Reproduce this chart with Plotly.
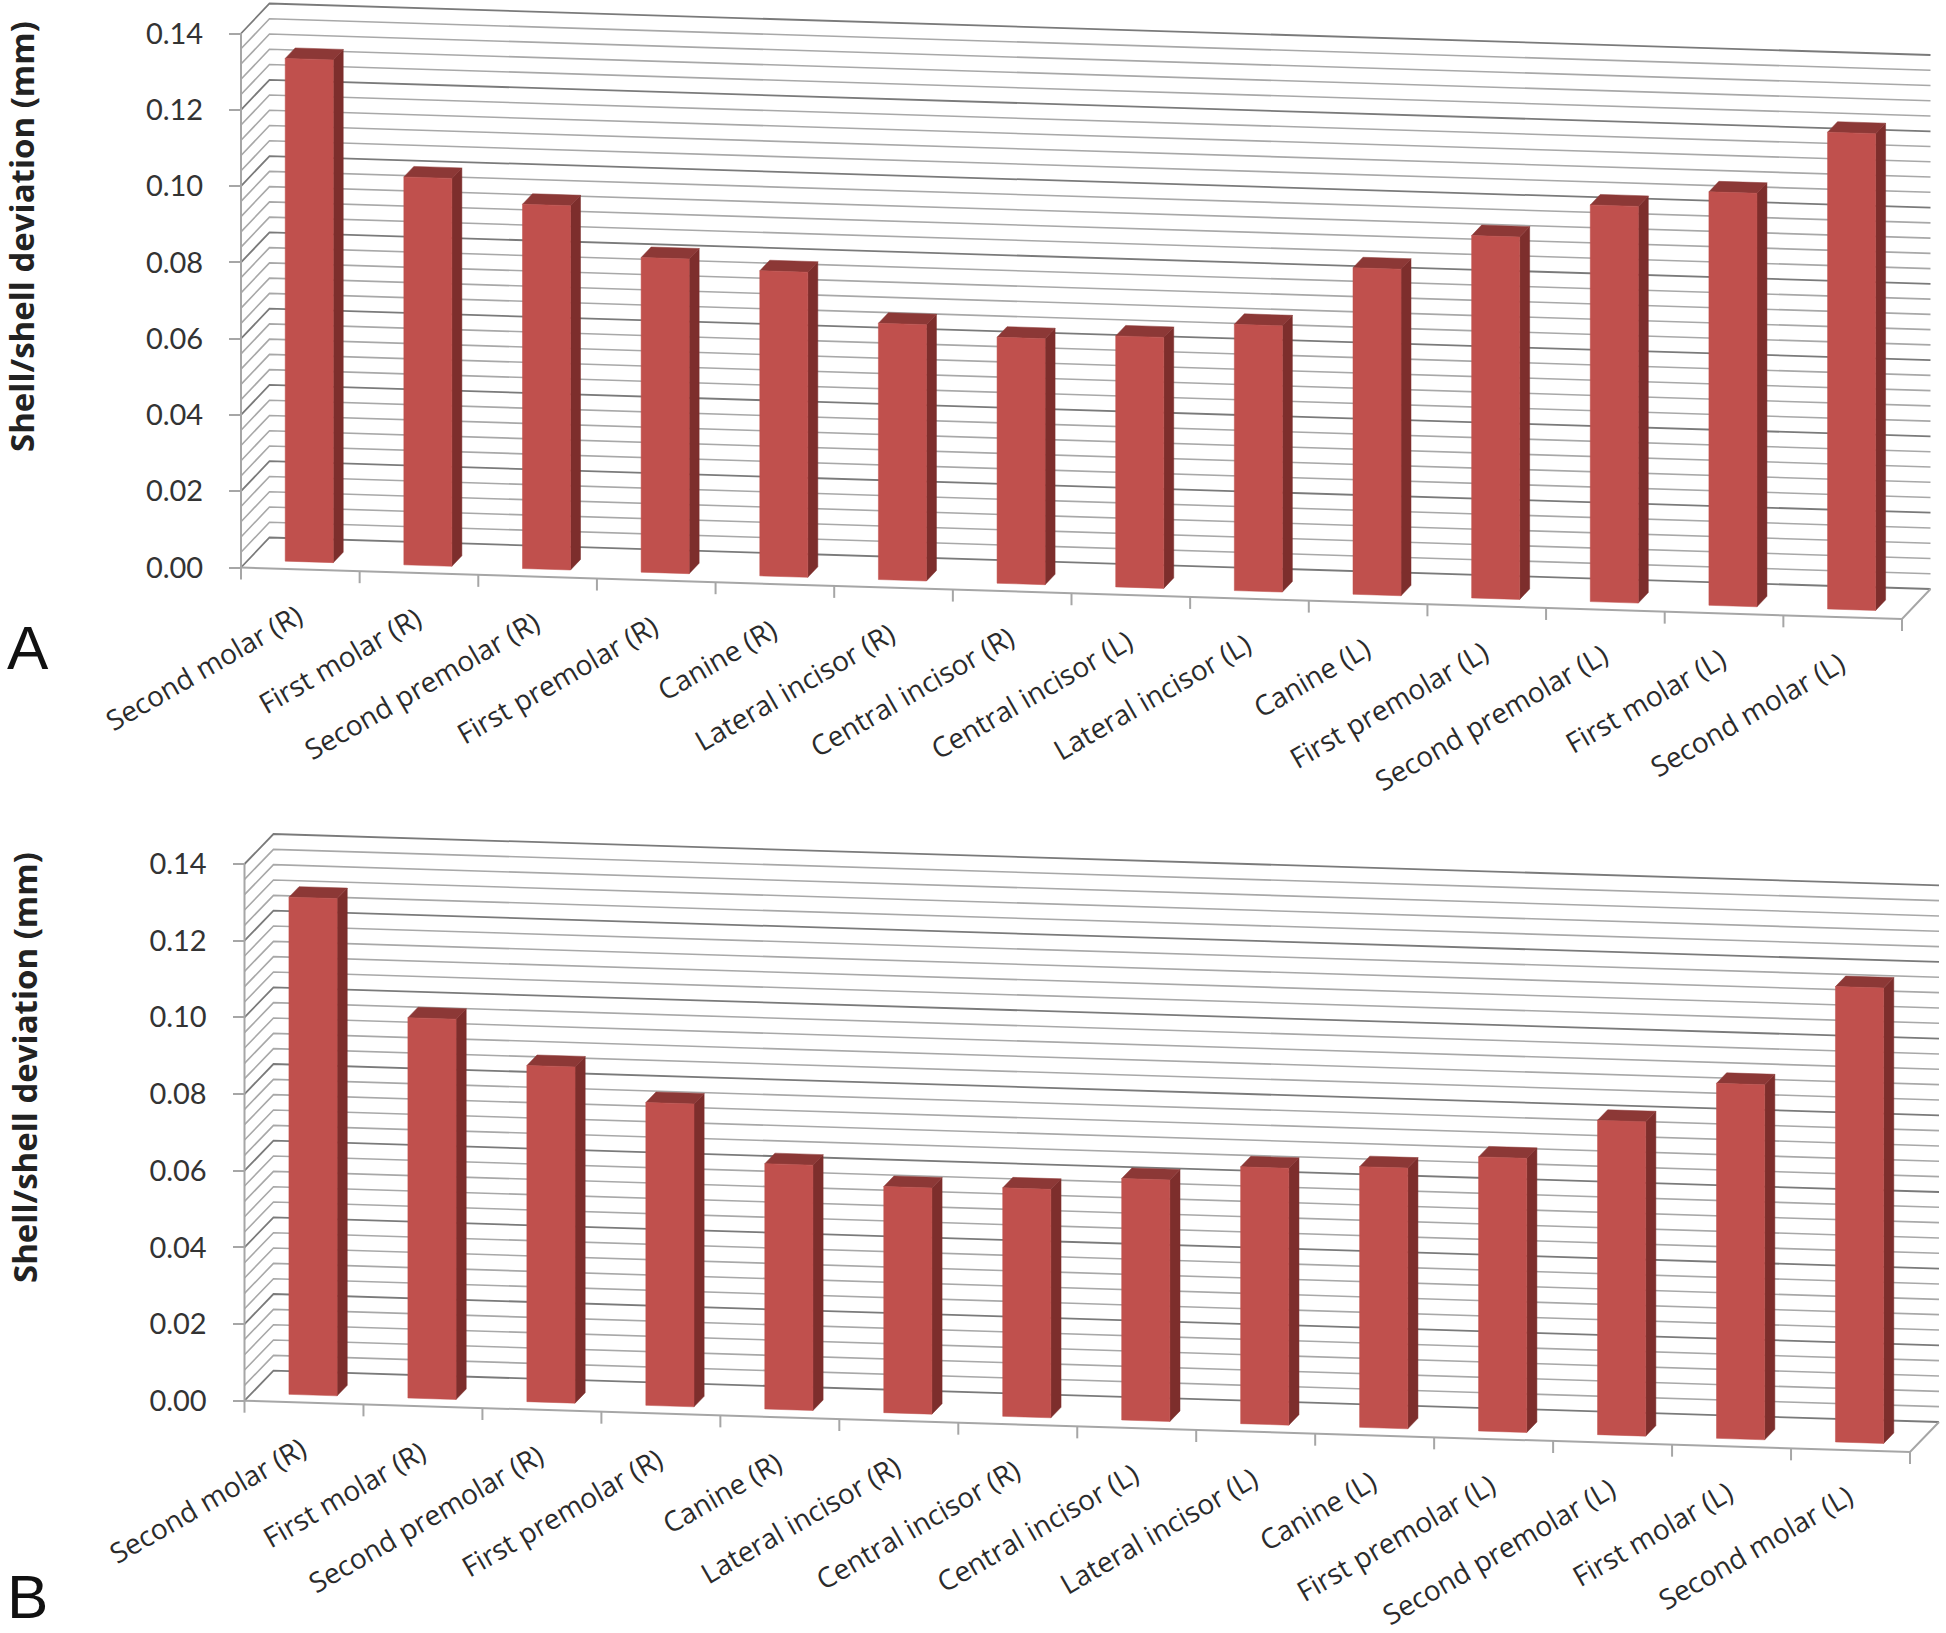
import plotly.graph_objects as go

categories = ["Second molar (R)", "First molar (R)", "Second premolar (R)", "First premolar (R)",
              "Canine (R)", "Lateral incisor (R)", "Central incisor (R)", "Central incisor (L)",
              "Lateral incisor (L)", "Canine (L)", "First premolar (L)", "Second premolar (L)",
              "First molar (L)", "Second molar (L)"]
values_a = [0.1318, 0.1017, 0.0955, 0.0825, 0.080, 0.0672, 0.0645, 0.0658, 0.0698, 0.0856, 0.095, 0.104, 0.1084, 0.125]
values_b = [0.1297, 0.0992, 0.0877, 0.079, 0.064, 0.059, 0.0596, 0.063, 0.067, 0.068, 0.0715, 0.082, 0.0926, 0.1188]
y_ticks = [0.00, 0.02, 0.04, 0.06, 0.08, 0.10, 0.12, 0.14]
minor_step = 0.004
y_title = "Shell/shell deviation (mm)"

W, H = 1946, 1633
FONT = "Lato"
N = len(categories)
GRID_MINOR, GRID_MAJOR, AXIS = "#a8a8a8", "#7a7a7a", "#a6a6a6"
FRONT, SIDE, TOP = "#C0504D", "#7D2E2C", "#8C3836"
BAR_W, D0, D1 = 0.405, 0.25, 0.60

fig = go.Figure()


def panel(idx, vals, px0, py0, px_cat, px_val, dy_total, ddx_px, ddy_px, top_px, bot_px, letter, letter_y, title_x, title_y):
    xn, yn = f"x{idx}", f"y{idx}"
    slope = dy_total / N / px_val
    ddx, ddy = ddx_px / px_cat, ddy_px / px_val

    def pt(x, v, d=0.0):
        return x + d * ddx, v - slope * x + d * ddy

    def add(xs, ys, **kw):
        fig.add_trace(go.Scatter(x=xs, y=ys, xaxis=xn, yaxis=yn, showlegend=False, hoverinfo="skip", **kw))

    def lines(segments, color, width):
        xs, ys = [], []
        for seg in segments:
            for p in seg:
                xs.append(p[0]); ys.append(p[1])
            xs.append(None); ys.append(None)
        add(xs, ys, mode="lines", line=dict(color=color, width=width))

    n_steps = round(y_ticks[-1] / minor_step)
    grid = [k * minor_step for k in range(n_steps + 1)]
    major = [v for k, v in enumerate(grid) if k % 5 == 0]
    minor = [v for k, v in enumerate(grid) if k % 5 != 0]
    wall = lambda v: [pt(0, v), pt(0, v, 1), pt(N, v, 1)]
    lines([wall(v) for v in minor], GRID_MINOR, 1.6)
    lines([wall(v) for v in major], GRID_MAJOR, 1.8)
    # axes, floor edge and tick marks
    lines([[pt(0, 0), pt(0, y_ticks[-1])],
           [pt(0, 0), pt(N, 0), pt(N, 0, 1)]], AXIS, 2)
    tick_len = 12 / px_val
    lines([[pt(i, 0), (pt(i, 0)[0], pt(i, 0)[1] - tick_len)] for i in range(N + 1)], AXIS, 2)

    # bars: sheared faces from the values
    fx, fy, sx, sy, tx, ty = [], [], [], [], [], []
    for i, v in enumerate(vals):
        a = i + 0.515 - BAR_W / 2
        b = a + BAR_W
        front = [pt(a, 0, D0), pt(b, 0, D0), pt(b, v, D0), pt(a, v, D0), pt(a, 0, D0)]
        side = [pt(b, 0, D0), pt(b, 0, D1), pt(b, v, D1), pt(b, v, D0), pt(b, 0, D0)]
        top = [pt(a, v, D0), pt(b, v, D0), pt(b, v, D1), pt(a, v, D1), pt(a, v, D0)]
        for poly, xx, yy in ((front, fx, fy), (side, sx, sy), (top, tx, ty)):
            for p in poly:
                xx.append(p[0]); yy.append(p[1])
            xx.append(None); yy.append(None)
    add(sx, sy, mode="lines", fill="toself", fillcolor=SIDE, line=dict(color=SIDE, width=0.5))
    add(tx, ty, mode="lines", fill="toself", fillcolor=TOP, line=dict(color=TOP, width=0.5))
    add(fx, fy, mode="lines", fill="toself", fillcolor=FRONT, line=dict(color=FRONT, width=0.5))

    # category labels
    for i, c in enumerate(categories):
        px, py = pt(i + 0.5, 0)
        fig.add_annotation(x=px, y=py, xref=xn, yref=yn, text=c, showarrow=False, textangle=-30,
                           xanchor="right", yanchor="top", xshift=11, yshift=-23,
                           font=dict(family="Open Sans", size=28, color="#2b2b2b"))

    fig.add_annotation(x=5 / W, y=1 - letter_y / H, xref="paper", yref="paper", text=letter, showarrow=False,
                       xanchor="left", yanchor="bottom",
                       font=dict(family="Liberation Sans", size=62, color="#111111"))
    fig.add_annotation(x=title_x / W, y=1 - title_y / H, xref="paper", yref="paper", text=f"<b>{y_title}</b>",
                       showarrow=False, textangle=-90, xanchor="center", yanchor="middle",
                       font=dict(family="Open Sans", size=33, color="#222222"))

    fig.layout[f"xaxis{idx}"] = dict(domain=[0, 1], range=[-px0 / px_cat, (W - px0) / px_cat], visible=False,
                                     anchor=yn, fixedrange=True)
    fig.layout[f"yaxis{idx}"] = dict(domain=[1 - bot_px / H, 1 - top_px / H],
                                     range=[(py0 - bot_px) / px_val, (py0 - top_px) / px_val],
                                     anchor="free", overlaying=None, position=px0 / W, showgrid=False, zeroline=False,
                                     showline=False, tickmode="array", tickvals=y_ticks, tickformat=".2f",
                                     ticks="outside", ticklen=12, tickwidth=2, tickcolor=AXIS, ticklabelstandoff=20,
                                     tickfont=dict(family=FONT, size=29, color="#333333"), fixedrange=True)


panel(1, values_a, 241, 567.5, (1902 - 241) / N, 534 / 0.14, 51.5, 28.5, 30, 0, 800, "A", 684, 21, 237)
panel(2, values_b, 244.5, 1400.7, (1910 - 244.5) / N, 536.7 / 0.14, 51.3, 29, 30, 800, 1633, "B", 1633, 24, 1068)

fig.update_layout(width=W, height=H, margin=dict(l=0, r=0, t=0, b=0), paper_bgcolor="white", plot_bgcolor="white",
                  showlegend=False)
fig.write_html("out.html", config=dict(displayModeBar=False),
               post_script="document.body.style.margin='0';document.body.style.overflow='hidden';")
